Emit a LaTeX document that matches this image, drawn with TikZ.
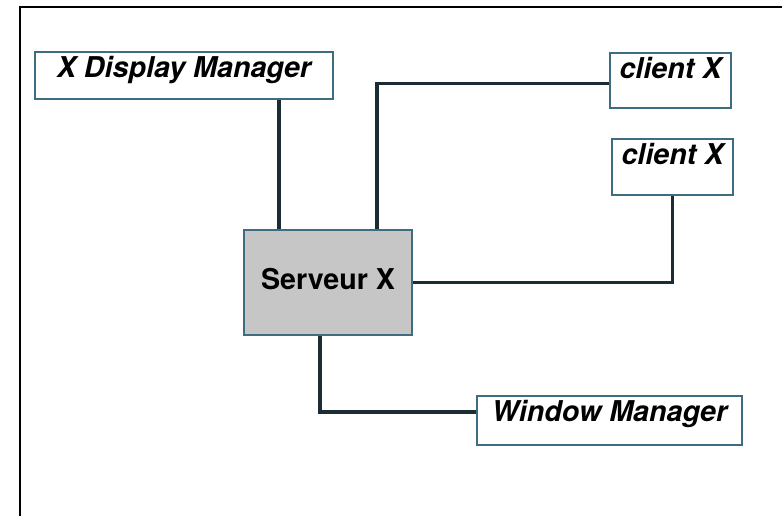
\documentclass[tikz,border=0pt]{standalone}
\usepackage{fontspec}
\setmainfont{TeX Gyre Heros}
\usepackage{tikz}
\usetikzlibrary{positioning}
\definecolor{boxline}{RGB}{62,108,128}
\definecolor{wireline}{RGB}{28,44,52}
\definecolor{servfill}{RGB}{198,198,198}

\begin{document}
\begin{tikzpicture}[x=0.75pt,y=-0.75pt,
        every node/.style={font=\fontsize{21.5}{26}\selectfont\bfseries\itshape},
        comp/.style={draw=boxline,line width=1.8pt,fill=white,inner sep=0pt,anchor=base,text height=19.5pt},
        server/.style={comp,fill=servfill,font=\fontsize{21.5}{26}\selectfont\bfseries},
        wire/.style={draw=wireline,line width=2.6pt}]

      \useasboundingbox (0,0) rectangle (782,516);
      \draw[line width=1.3pt] (20,516) |- (782,7);

      \node[comp,minimum width=223.5pt,text depth=15.75pt] (xdm) at (184,78)    {X Display Manager};
      \node[comp,minimum width=90.75pt,text depth=21.75pt] (cl1) at (670.5,79) {client X};
      \node[comp,minimum width=90.75pt,text depth=22.5pt]  (cl2) at (672.5,165) {client X};
      \node[server,minimum width=126pt,text height=45pt,text depth=33.75pt] (srv) at (328,290) {Serveur X};
      \node[comp,minimum width=198.75pt,text depth=17.25pt] (wm) at (609.5,422) {Window Manager};

      \coordinate (dmtap) at ([xshift=27pt]srv.north west);
      \coordinate (cltap) at ([xshift=100.5pt]srv.north west);
      \coordinate (wmtap) at ([xshift=57.75pt]srv.south west);

      \draw[wire] (dmtap) -- (dmtap |- xdm.south);
      \draw[wire] (cltap) |- ([yshift=-2.25pt]cl1.west);
      \draw[wire] (srv.east) -| (cl2.south);
      \draw[wire] (wmtap) |- ([yshift=6.4pt]wm.west);
\end{tikzpicture}
\end{document}
